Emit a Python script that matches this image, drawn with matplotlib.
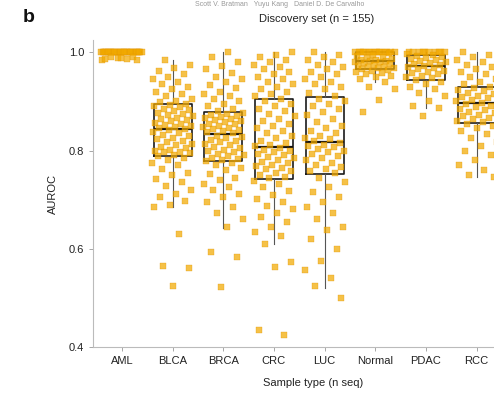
import numpy as np
import matplotlib
matplotlib.use("Agg")
import matplotlib.pyplot as plt

plt.rcParams['font.family'] = ['Liberation Sans', 'DejaVu Sans']

categories = ["AML", "BLCA", "BRCA", "CRC", "LUC", "Normal", "PDAC", "RCC"]

aml = [1.0] * 32 + [0.99, 0.988, 0.985, 0.986, 0.99, 0.984, 0.989, 0.987]
blca = [0.984, 0.975, 0.968, 0.962, 0.955, 0.95, 0.945, 0.94, 0.935, 0.93, 0.925, 0.92, 0.915,
        0.91, 0.905, 0.90, 0.898, 0.895, 0.893,
        0.89, 0.888, 0.885, 0.882, 0.88, 0.877, 0.875, 0.872, 0.87, 0.867, 0.864, 0.862, 0.86,
        0.857, 0.855, 0.852, 0.85, 0.848, 0.846, 0.844,
        0.842, 0.838, 0.835, 0.832, 0.83, 0.826, 0.823, 0.82, 0.817, 0.814, 0.811, 0.808, 0.805,
        0.802, 0.80, 0.798, 0.796, 0.794, 0.791, 0.789,
        0.785, 0.78, 0.775, 0.77, 0.762, 0.755, 0.75, 0.742, 0.735, 0.728, 0.72, 0.712, 0.705,
        0.698, 0.69, 0.685, 0.63, 0.565, 0.56, 0.525]
brca = [1.0, 0.99, 0.98, 0.972, 0.965, 0.958, 0.95, 0.945, 0.94, 0.933, 0.927, 0.92, 0.915, 0.91,
        0.905, 0.9, 0.895, 0.89, 0.885, 0.88,
        0.876, 0.874, 0.872, 0.87, 0.868, 0.866, 0.864, 0.862, 0.86, 0.858, 0.855, 0.853, 0.85,
        0.848, 0.845, 0.843, 0.841, 0.839, 0.837, 0.835,
        0.83, 0.828, 0.825, 0.822, 0.82, 0.817, 0.814, 0.811, 0.808, 0.805, 0.802, 0.799, 0.796,
        0.793, 0.79, 0.788, 0.785, 0.783, 0.781, 0.779,
        0.775, 0.77, 0.765, 0.76, 0.752, 0.745, 0.74, 0.732, 0.725, 0.72, 0.712, 0.705, 0.695,
        0.685, 0.672, 0.66, 0.645, 0.593, 0.583, 0.522]
crc = [1.0, 0.995, 0.99, 0.985, 0.98, 0.975, 0.97, 0.965, 0.96, 0.955, 0.95, 0.945, 0.94, 0.935,
       0.93, 0.925, 0.92, 0.915, 0.91, 0.905,
       0.9, 0.895, 0.89, 0.885, 0.88, 0.875, 0.87, 0.865, 0.86, 0.855, 0.85, 0.845, 0.84, 0.835,
       0.83, 0.825, 0.82, 0.816, 0.812, 0.809,
       0.805, 0.802, 0.799, 0.796, 0.793, 0.79, 0.787, 0.784, 0.78, 0.777, 0.774, 0.771, 0.768,
       0.765, 0.762, 0.758, 0.754, 0.75, 0.747, 0.744,
       0.738, 0.732, 0.725, 0.718, 0.71, 0.702, 0.695, 0.688, 0.68, 0.672, 0.665, 0.655, 0.645,
       0.635, 0.625, 0.61, 0.573, 0.563, 0.435, 0.425]
luc = [1.0, 0.995, 0.99, 0.985, 0.98, 0.975, 0.97, 0.965, 0.96, 0.955, 0.95, 0.945, 0.94, 0.935,
       0.93, 0.925, 0.918, 0.912,
       0.905, 0.9, 0.895, 0.89, 0.885, 0.878, 0.872, 0.865, 0.858, 0.85, 0.845, 0.84, 0.835, 0.83,
       0.826, 0.823, 0.82,
       0.815, 0.812, 0.81, 0.807, 0.804, 0.8, 0.796, 0.792, 0.788, 0.784, 0.78, 0.775, 0.77,
       0.766, 0.762, 0.758, 0.754,
       0.745, 0.735, 0.725, 0.715, 0.705, 0.695, 0.685, 0.672, 0.66, 0.645, 0.638, 0.62, 0.6,
       0.575, 0.557, 0.54, 0.525, 0.5]
normal = [1.0] * 15 + [0.998, 0.995, 0.993, 0.99, 0.988, 0.986, 0.985, 0.984, 0.983, 0.982, 0.981,
                       0.98, 0.978, 0.976, 0.975, 0.973, 0.971, 0.97, 0.968, 0.967, 0.966, 0.964,
                       0.962, 0.96, 0.957, 0.955, 0.952, 0.95, 0.945, 0.94, 0.93, 0.925, 0.902,
                       0.878]
pdac = [1.0] * 10 + [0.997, 0.995, 0.993, 0.99, 0.988, 0.986, 0.984, 0.982, 0.98, 0.978, 0.976,
                     0.974, 0.972, 0.97, 0.968, 0.965, 0.962, 0.96, 0.957, 0.955, 0.952, 0.95,
                     0.947, 0.944, 0.94, 0.935, 0.93, 0.925, 0.918, 0.91, 0.9, 0.89, 0.886, 0.87]
rcc = [1.0, 0.995, 0.99, 0.985, 0.98, 0.975, 0.97, 0.965, 0.96, 0.955, 0.95, 0.945, 0.94, 0.935,
       0.93, 0.927, 0.924, 0.921, 0.918, 0.915, 0.912, 0.909, 0.906, 0.903, 0.9, 0.897, 0.894,
       0.891, 0.888, 0.885, 0.882, 0.879, 0.876, 0.873, 0.87, 0.867, 0.864, 0.861, 0.858, 0.855,
       0.85, 0.845, 0.84, 0.833, 0.825, 0.818, 0.81, 0.8, 0.79, 0.78, 0.77, 0.76, 0.75, 0.746]
values = [aml, blca, brca, crc, luc, normal, pdac, rcc]

# box statistics
q1 = [1.0, 0.788, 0.778, 0.742, 0.752, 0.966, 0.943, 0.856]
med = [1.0, 0.843, 0.833, 0.807, 0.817, 0.982, 0.972, 0.896]
q3 = [1.0, 0.894, 0.878, 0.905, 0.908, 1.0, 0.995, 0.929]
whislo = [1.0, 0.685, 0.642, 0.61, 0.52, 0.94, 0.886, 0.746]
whishi = [1.0, 0.984, 1.0, 1.0, 1.0, 1.0, 1.0, 1.0]

title = "Discovery set (n = 155)"
ylabel = "AUROC"
xlabel = "Sample type (n seq)"

fig = plt.figure(figsize=(4.94, 3.94), dpi=100)
ax = fig.add_axes([93 / 494, 47 / 394, 414 / 494, 307 / 394])

stats = []
for i, c in enumerate(categories):
    stats.append(dict(label=c, q1=q1[i], med=med[i], q3=q3[i],
                      whislo=whislo[i], whishi=whishi[i], fliers=[]))
ax.bxp(stats, positions=range(len(categories)), widths=0.75, showcaps=False,
       showfliers=False, patch_artist=False,
       boxprops=dict(color='#1a1a1a', linewidth=1.2),
       medianprops=dict(color='#111111', linewidth=1.6),
       whiskerprops=dict(color='#555555', linewidth=0.8), zorder=1)

for i, vals in enumerate(values):
    n = len(vals)
    offs = ((np.arange(n) * 0.6180339887 + 0.31 * i) % 1.0 - 0.5) * 0.82
    ax.scatter(i + offs, vals, s=14, marker='s', color='#F2AA00', alpha=0.72,
               edgecolors='#E39400', linewidths=0.3, zorder=2)

ax.set_xlim(-0.57, 7.6)
ax.set_ylim(0.4, 1.025)
ax.set_yticks([0.4, 0.6, 0.8, 1.0])
ax.set_yticklabels(["0.4", "0.6", "0.8", "1.0"])
ax.set_xticks(range(len(categories)))
ax.set_xticklabels(categories)
for s in ['top', 'right']:
    ax.spines[s].set_visible(False)
for s in ['left', 'bottom']:
    ax.spines[s].set_color('#bbbbbb')
    ax.spines[s].set_linewidth(0.8)
ax.tick_params(axis='both', colors='#222222', labelsize=8, length=3, width=0.6)
ax.tick_params(axis='both', color='#999999')
ax.set_ylabel(ylabel, fontsize=8, color='#222222', labelpad=8)

fig.text(317 / 494, 1 - 19 / 394, title, ha='center', va='center', fontsize=8, color='#222222')
fig.text(313 / 494, 1 - 383 / 394, xlabel, ha='center', va='center', fontsize=8, color='#222222')
fig.text(29 / 494, 1 - 17 / 394, "b", ha='center', va='center', fontsize=14,
         fontweight='bold', color='#111111')
fig.text(280 / 494, 1 - 4 / 394, "Scott V. Bratman   Yuyu Kang   Daniel D. De Carvalho",
         ha='center', va='center', fontsize=5, color='#999999')

fig.savefig("out.png", dpi=100)
